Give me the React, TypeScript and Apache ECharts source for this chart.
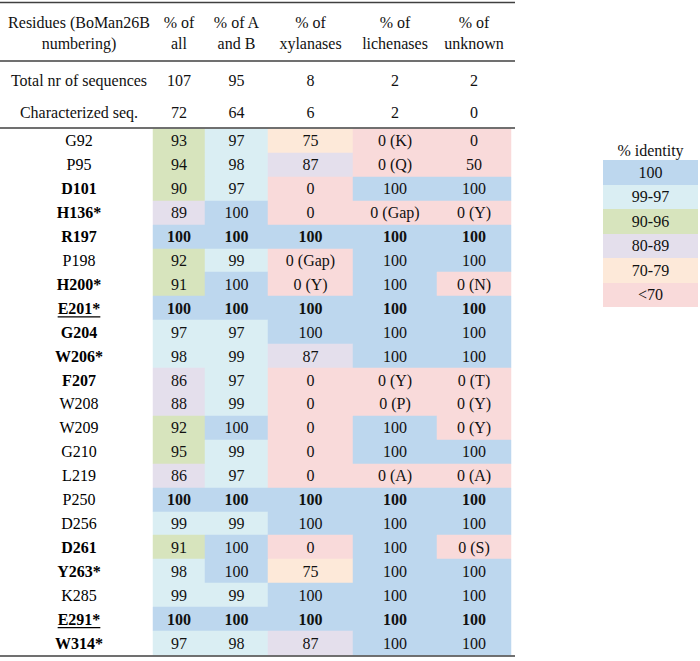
import React, { useEffect, useRef } from "react";
import * as echarts from "echarts";

// ---------- data ----------
const residues = ["G92","P95","D101","H136*","R197","P198","H200*","E201*","G204","W206*","F207","W208","W209","G210","L219","P250","D256","D261","Y263*","K285","E291*","W314*"];
const boldResidues = ["D101","H136*","R197","H200*","E201*","G204","W206*","F207","D261","Y263*","E291*","W314*"];
const underlinedResidues = ["E201*","E291*"];
const boldValueRows = ["R197","E201*","P250","E291*"];

const columnHeaders = ["Residues (BoMan26B\nnumbering)","% of\nall","% of A\nand B","% of\nxylanases","% of\nlichenases","% of\nunknown"];
const summaryLabels = ["Total nr of sequences","Characterized seq."];
const totalSeqs = [107, 95, 8, 2, 2];
const characterizedSeqs = [72, 64, 6, 2, 0];

const pctAll  = [93,94,90,89,100,92,91,100,97,98,86,88,92,95,86,100,99,91,98,99,100,97];
const pctAB   = [97,98,97,100,100,99,100,100,97,99,97,99,100,99,97,100,99,100,100,99,100,98];
const pctXyl  = [75,87,0,0,100,0,0,100,100,87,0,0,0,0,0,100,100,0,75,100,100,87];
const pctLich = [0,0,100,0,100,100,100,100,100,100,0,0,100,100,0,100,100,100,100,100,100,100];
const pctUnk  = [0,50,100,0,100,100,0,100,100,100,0,0,0,100,0,100,100,0,100,100,100,100];

const notesAll  = residues.map(() => "");
const notesAB   = residues.map(() => "");
const notesXyl  = ["","","","","","(Gap)","(Y)","","","","","","","","","","","","","","",""];
const notesLich = ["(K)","(Q)","","(Gap)","","","","","","","(Y)","(P)","","","(A)","","","","","","",""];
const notesUnk  = ["","","","(Y)","","","(N)","","","","(T)","(Y)","(Y)","","(A)","","","(S)","","","",""];

const legendTitle = "% identity";
const legendLabels = ["100","99-97","90-96","80-89","70-79","<70"];

// ---------- styles / layout ----------
const legendColors = ["#BDD7EE","#DAEEF3","#D7E4BD","#E4DFEC","#FDE9D9","#F9DADA"];
const COL_EDGES = [5, 153, 205, 268, 353, 437, 511];
const FONT = '"Liberation Serif", "Times New Roman", serif';
const LINE_COLOR = "#404040";

const valueCols = [pctAll, pctAB, pctXyl, pctLich, pctUnk];
const noteCols = [notesAll, notesAB, notesXyl, notesLich, notesUnk];

function colorIndex(v: number): number {
  if (v >= 100) return 0;
  if (v >= 97) return 1;
  if (v >= 90) return 2;
  if (v >= 80) return 3;
  if (v >= 70) return 4;
  return 5;
}

let measureCtx: CanvasRenderingContext2D | null = null;
function textWidth(text: string, font: string): number {
  if (!measureCtx) measureCtx = document.createElement("canvas").getContext("2d");
  if (!measureCtx) return text.length * 8;
  measureCtx.font = font;
  return measureCtx.measureText(text).width;
}

export default function App() {
  const ref = useRef<HTMLDivElement>(null);

  useEffect(() => {
    if (!ref.current) return;
    const chart = echarts.init(ref.current, undefined, { renderer: "svg" });

    const mainData: number[][] = [];
    residues.forEach((_, r) => {
      for (let c = 0; c <= 5; c++) mainData.push([c, r]);
    });
    const summaryData: number[][] = [];
    summaryLabels.forEach((_, r) => {
      for (let c = 0; c <= 5; c++) summaryData.push([c, r]);
    });

    const renderMain = (params: any, api: any) => {
      const c = api.value(0);
      const r = api.value(1);
      const yc = api.coord([0, r])[1];
      const h = api.size([0, 1])[1];
      const x0 = api.coord([COL_EDGES[c], r])[0];
      const x1 = api.coord([COL_EDGES[c + 1], r])[0];
      const cx = (x0 + x1) / 2;
      const name = residues[r];
      if (c === 0) {
        const bold = boldResidues.includes(name);
        const font = `${bold ? "bold " : ""}16px ${FONT}`;
        const children: any[] = [
          {
            type: "text",
            x: cx,
            y: yc,
            style: { text: name, font, fill: "#000", align: "center", verticalAlign: "middle" },
          },
        ];
        if (underlinedResidues.includes(name)) {
          const w = textWidth(name, font);
          children.push({
            type: "line",
            shape: { x1: cx - w / 2, y1: yc + 8.5, x2: cx + w / 2, y2: yc + 8.5 },
            style: { stroke: "#000", lineWidth: 1.3 },
          });
        }
        return { type: "group", children };
      }
      const v = valueCols[c - 1][r];
      const note = noteCols[c - 1][r];
      const bold = boldValueRows.includes(name);
      const top = Math.round(yc - h / 2);
      const bottom = Math.round(yc + h / 2);
      return {
        type: "group",
        children: [
          {
            type: "rect",
            shape: { x: Math.round(x0), y: top, width: Math.round(x1) - Math.round(x0), height: bottom - top },
            style: { fill: legendColors[colorIndex(v)], stroke: legendColors[colorIndex(v)], lineWidth: 0.5 },
          },
          {
            type: "text",
            x: cx,
            y: yc,
            style: {
              text: note ? `${v} ${note}` : `${v}`,
              font: `${bold ? "bold " : ""}16px ${FONT}`,
              fill: "#111",
              align: "center",
              verticalAlign: "middle",
            },
          },
        ],
      };
    };

    const renderSummary = (params: any, api: any) => {
      const c = api.value(0);
      const r = api.value(1);
      const yc = api.coord([0, r])[1];
      const x0 = api.coord([COL_EDGES[c], r])[0];
      const x1 = api.coord([COL_EDGES[c + 1], r])[0];
      const text = c === 0 ? summaryLabels[r] : `${(r === 0 ? totalSeqs : characterizedSeqs)[c - 1]}`;
      return {
        type: "text",
        x: (x0 + x1) / 2,
        y: yc,
        style: { text, font: `16px ${FONT}`, fill: "#111", align: "center", verticalAlign: "middle" },
      };
    };

    const graphics: any[] = [];
    // horizontal rules
    [2.5, 61, 128, 656].forEach((y) => {
      graphics.push({
        type: "line",
        shape: { x1: 0, y1: y, x2: 515, y2: y },
        style: { stroke: LINE_COLOR, lineWidth: 1.6 },
        z: 10,
      });
    });
    // column headers
    columnHeaders.forEach((t, i) => {
      graphics.push({
        type: "text",
        x: (COL_EDGES[i] + COL_EDGES[i + 1]) / 2,
        y: 32.5,
        style: { text: t, font: `16px ${FONT}`, fill: "#111", align: "center", verticalAlign: "middle", lineHeight: 21 },
      });
    });
    // legend
    const lx = 603, lw = 95, ly = 160, lh = 24.5;
    graphics.push({
      type: "text",
      x: lx + lw / 2,
      y: 150,
      style: { text: legendTitle, font: `16px ${FONT}`, fill: "#111", align: "center", verticalAlign: "middle" },
    });
    legendLabels.forEach((lab, i) => {
      graphics.push({
        type: "rect",
        shape: { x: lx, y: Math.round(ly + i * lh), width: lw, height: Math.round(ly + (i + 1) * lh) - Math.round(ly + i * lh) },
        style: { fill: legendColors[i] },
      });
      graphics.push({
        type: "text",
        x: lx + lw / 2,
        y: ly + (i + 0.5) * lh,
        style: { text: lab, font: `16px ${FONT}`, fill: "#111", align: "center", verticalAlign: "middle" },
      });
    });

    chart.setOption({
      animation: false,
      backgroundColor: "#ffffff",
      grid: [
        { left: 0, top: 129, width: 700, height: 526 },
        { left: 0, top: 64, width: 700, height: 64 },
      ],
      xAxis: [
        { type: "value", min: 0, max: 700, show: false, gridIndex: 0 },
        { type: "value", min: 0, max: 700, show: false, gridIndex: 1 },
      ],
      yAxis: [
        { type: "category", data: residues, inverse: true, show: false, gridIndex: 0 },
        { type: "category", data: summaryLabels, inverse: true, show: false, gridIndex: 1 },
      ],
      series: [
        {
          type: "custom",
          xAxisIndex: 0,
          yAxisIndex: 0,
          data: mainData,
          renderItem: renderMain,
          clip: false,
        },
        {
          type: "custom",
          xAxisIndex: 1,
          yAxisIndex: 1,
          data: summaryData,
          renderItem: renderSummary,
          clip: false,
        },
      ],
      graphic: graphics,
    });

    return () => chart.dispose();
  }, []);

  return (
    <div
      ref={ref}
      style={{ position: "fixed", left: 0, top: 0, width: 700, height: 661, background: "#fff" }}
    />
  );
}
